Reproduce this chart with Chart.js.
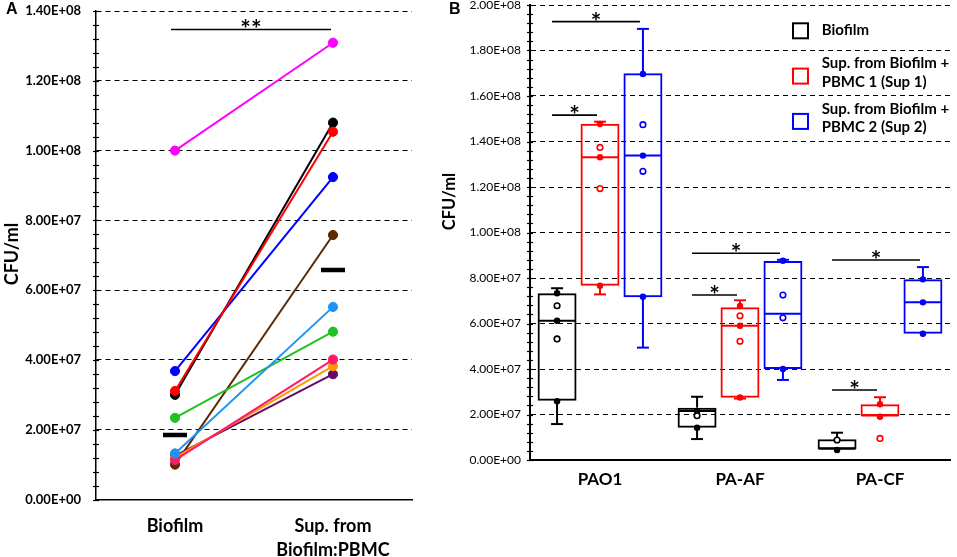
<!DOCTYPE html>
<html><head><meta charset="utf-8">
<script src="https://cdn.jsdelivr.net/npm/chart.js@4.4.1/dist/chart.umd.min.js"></script>
<style>
html,body{margin:0;padding:0;background:#fff;width:957px;height:557px;overflow:hidden}
#wa{position:absolute;left:0;top:0;width:430px;height:557px}
#wb{position:absolute;left:430px;top:0;width:527px;height:557px}
</style></head><body>
<div id="wa"><canvas id="ca"></canvas></div>
<div id="wb"><canvas id="cb"></canvas></div>
<script>
// ---------- Panel A data ----------
const categoriesA = ['Biofilm', ['Sup. from', 'Biofilm:PBMC']];
const isolateNames = ['Isolate 1','Isolate 2','Isolate 3','Isolate 4','Isolate 5','Isolate 6','Isolate 7','Isolate 8','Isolate 9','Isolate 10'];
const isolateColors = ['#1E93F5','#FF0000','#000000','#0000FF','#FF00FF','#22C022','#FF1A66','#FF9900','#650A66','#5C2A00'];
const biofilmCFU = [1.32e7, 3.11e7, 3.00e7, 3.68e7, 1.00e8, 2.34e7, 1.13e7, 1.20e7, 1.25e7, 1.00e7];
const supCFU     = [5.52e7, 1.054e8, 1.080e8, 9.24e7, 1.309e8, 4.81e7, 4.01e7, 3.82e7, 3.59e7, 7.58e7];
const mediansA = [1.85e7, 6.58e7];
const yTickLabelsA = ['0.00E+00','2.00E+07','4.00E+07','6.00E+07','8.00E+07','1.00E+08','1.20E+08','1.40E+08'];
const sigAFrom = [0], sigATo = [1], sigAValue = [1.347e8], sigALabel = ['**'];

// ---------- Panel B data ----------
const categoriesB = ['PAO1', 'PA-AF', 'PA-CF'];
const seriesNamesB = ['Biofilm', 'Sup. from Biofilm + PBMC 1 (Sup 1)', 'Sup. from Biofilm + PBMC 2 (Sup 2)'];
const legendLinesB = [['Biofilm'], ['Sup. from Biofilm +', 'PBMC 1 (Sup 1)'], ['Sup. from Biofilm +', 'PBMC 2 (Sup 2)']];
const seriesColorsB = ['#000000', '#FF0000', '#0000FF'];
const yTickLabelsB = ['0.00E+00','2.00E+07','4.00E+07','6.00E+07','8.00E+07','1.00E+08','1.20E+08','1.40E+08','1.60E+08','1.80E+08','2.00E+08'];

const biofilmMin    = [1.58e7, 9.2e6, 4.7e6];
const biofilmQ1     = [2.60e7, 1.42e7, 4.7e6];
const biofilmMedian = [6.12e7, 2.15e7, 5.0e6];
const biofilmQ3     = [7.33e7, 2.30e7, 9.1e6];
const biofilmMax    = [7.55e7, 2.78e7, 1.20e7];
const biofilmFilled = [[7.33e7, 6.12e7, 2.58e7], [2.15e7, 1.42e7], [4.4e6]];
const biofilmOpen   = [[6.78e7, 5.32e7], [1.95e7], [8.8e6]];

const sup1Min    = [7.28e7, 2.70e7, 1.93e7];
const sup1Q1     = [7.66e7, 2.74e7, 1.93e7];
const sup1Median = [1.331e8, 5.90e7, 1.96e7];
const sup1Q3     = [1.478e8, 6.71e7, 2.45e7];
const sup1Max    = [1.487e8, 7.02e7, 2.76e7];
const sup1Filled = [[1.477e8, 1.331e8, 7.66e7], [6.77e7, 5.90e7, 2.75e7], [2.45e7, 1.90e7]];
const sup1Open   = [[1.374e8, 1.193e8], [6.34e7, 5.22e7], [9.5e6]];

const sup2Min    = [4.94e7, 3.52e7, 5.55e7];
const sup2Q1     = [7.15e7, 4.00e7, 5.55e7];
const sup2Median = [1.338e8, 6.43e7, 6.93e7];
const sup2Q3     = [1.700e8, 8.75e7, 7.94e7];
const sup2Max    = [1.895e8, 8.80e7, 8.48e7];
const sup2Filled = [[1.697e8, 1.338e8, 7.18e7], [8.76e7, 4.00e7], [7.94e7, 6.93e7, 5.55e7]];
const sup2Open   = [[1.474e8, 1.269e8], [7.25e7, 6.25e7], []];

const sigBGroup = [0, 0, 1, 1, 2, 2];
const sigBFrom  = [0, 0, 0, 0, 0, 0];
const sigBTo    = [2, 1, 2, 1, 2, 1];
const sigBValue = [1.927e8, 1.516e8, 9.09e7, 7.25e7, 8.79e7, 3.08e7];
const sigBLabel = ['*', '*', '*', '*', '*', '*'];

// ---------- helpers ----------
const FONT = 'Lato';
function line(ctx, x1, y1, x2, y2) { ctx.beginPath(); ctx.moveTo(x1, y1); ctx.lineTo(x2, y2); ctx.stroke(); }
function minorTicks(ctx, chart, step) {
  const y = chart.scales.y, x = chart.chartArea.left;
  ctx.save(); ctx.strokeStyle = '#000'; ctx.lineWidth = 1.2;
  for (let v = y.min; v <= y.max + 1; v += step) {
    const py = Math.round(y.getPixelForValue(v)) + 0.5;
    line(ctx, x - 3, py, x + 3, py);
  }
  ctx.restore();
}
function vTitle(ctx, text, cx, cy, size) {
  ctx.save(); ctx.translate(cx, cy); ctx.rotate(-Math.PI / 2);
  ctx.font = 'bold ' + size + 'px ' + FONT; ctx.fillStyle = '#000';
  ctx.textAlign = 'center'; ctx.textBaseline = 'middle';
  ctx.fillText(text, 0, 0); ctx.restore();
}
function sigMark(ctx, x1, x2, y, label) {
  ctx.save(); ctx.strokeStyle = '#000'; ctx.lineWidth = 1.6;
  line(ctx, x1, y, x2, y);
  ctx.font = 'bold 25px ' + FONT; ctx.fillStyle = '#000';
  ctx.textAlign = 'center'; ctx.textBaseline = 'alphabetic';
  ctx.fillText(label, (x1 + x2) / 2, y + 9);
  ctx.restore();
}
function panelLetter(ctx, text, x, y) {
  ctx.save(); ctx.font = 'bold 16px "Liberation Sans"'; ctx.fillStyle = '#000';
  ctx.textAlign = 'left'; ctx.textBaseline = 'alphabetic'; ctx.fillText(text, x, y); ctx.restore();
}

// ---------- Panel A chart ----------
const dsA = isolateNames.map((n, i) => ({
  label: n, data: [biofilmCFU[i], supCFU[i]],
  borderColor: isolateColors[i], backgroundColor: isolateColors[i],
  pointBackgroundColor: isolateColors[i], pointBorderColor: isolateColors[i],
  borderWidth: 2, pointRadius: 4.6, pointBorderWidth: 1, tension: 0
}));
dsA.unshift({
  label: 'Median', data: mediansA, showLine: false, pointStyle: 'line',
  pointRadius: 12, pointBorderWidth: 4.5, borderColor: '#000', pointBorderColor: '#000'
});

const pluginA = {
  id: 'panelA',
  afterDraw(chart) {
    const ctx = chart.ctx, xs = chart.scales.x, ys = chart.scales.y;
    minorTicks(ctx, chart, 4e6);
    sigAValue.forEach((v, i) => {
      sigMark(ctx, xs.getPixelForValue(sigAFrom[i]) - 4, xs.getPixelForValue(sigATo[i]) - 2, ys.getPixelForValue(v), sigALabel[i]);
    });
    vTitle(ctx, 'CFU/ml', 12, 254, 18);
    panelLetter(ctx, 'A', 6, 14);
  }
};

new Chart(document.getElementById('ca'), {
  type: 'line',
  data: { labels: categoriesA, datasets: dsA },
  options: {
    responsive: true, maintainAspectRatio: false, animation: false,
    layout: { autoPadding: false, padding: { left: 0, right: 18, top: 11, bottom: 0 } },
    plugins: { legend: { display: false }, tooltip: { enabled: false } },
    scales: {
      x: {
        offset: true, grid: { display: false },
        border: { display: true, color: '#000', width: 1.5 },
        ticks: { color: '#000', padding: 7, font: { family: FONT, size: 18, weight: 'bold', lineHeight: 1.333 } },
        afterFit(s) { s.height = 57.5; s.paddingLeft = 0; s.paddingRight = 0; }
      },
      y: {
        min: 0, max: 1.4e8,
        ticks: { stepSize: 2e7, color: '#000', padding: 15, callback: (v, i) => yTickLabelsA[i], font: { family: FONT, size: 13, weight: 'bold' } },
        grid: { color: '#000', lineWidth: 1, drawTicks: false },
        border: { display: true, color: '#000', width: 1.5, dash: [5, 4] },
        afterFit(s) { s.width = 96; s.paddingTop = 0; s.paddingBottom = 0; }
      }
    }
  },
  plugins: [pluginA]
});

// ---------- Panel B chart ----------
const seriesB = [
  { min: biofilmMin, q1: biofilmQ1, med: biofilmMedian, q3: biofilmQ3, max: biofilmMax, filled: biofilmFilled, open: biofilmOpen },
  { min: sup1Min, q1: sup1Q1, med: sup1Median, q3: sup1Q3, max: sup1Max, filled: sup1Filled, open: sup1Open },
  { min: sup2Min, q1: sup2Q1, med: sup2Median, q3: sup2Q3, max: sup2Max, filled: sup2Filled, open: sup2Open }
];

const pluginB = {
  id: 'panelB',
  afterDatasetsDraw(chart) {
    const ctx = chart.ctx, ys = chart.scales.y;
    ctx.save();
    seriesB.forEach((s, di) => {
      const meta = chart.getDatasetMeta(di), col = seriesColorsB[di];
      meta.data.forEach((el, gi) => {
        const x = el.x, w = el.width, cap = 6;
        ctx.strokeStyle = col; ctx.lineWidth = 2; ctx.lineCap = 'butt';
        const pq3 = ys.getPixelForValue(s.q3[gi]), pmax = ys.getPixelForValue(s.max[gi]);
        const pq1 = ys.getPixelForValue(s.q1[gi]), pmin = ys.getPixelForValue(s.min[gi]);
        if (s.max[gi] > s.q3[gi]) { line(ctx, x, pq3, x, pmax); line(ctx, x - cap, pmax, x + cap, pmax); }
        if (s.min[gi] < s.q1[gi]) { line(ctx, x, pq1, x, pmin); line(ctx, x - cap, pmin, x + cap, pmin); }
        const pm = ys.getPixelForValue(s.med[gi]);
        line(ctx, x - w / 2 + 1, pm, x + w / 2 - 1, pm);
        s.filled[gi].forEach(v => {
          ctx.beginPath(); ctx.arc(x, ys.getPixelForValue(v), 3.2, 0, Math.PI * 2);
          ctx.fillStyle = col; ctx.fill();
        });
        s.open[gi].forEach(v => {
          ctx.beginPath(); ctx.arc(x, ys.getPixelForValue(v), 2.8, 0, Math.PI * 2);
          ctx.fillStyle = '#fff'; ctx.fill(); ctx.lineWidth = 1.6; ctx.strokeStyle = col; ctx.stroke();
        });
      });
    });
    ctx.restore();
  },
  afterDraw(chart) {
    const ctx = chart.ctx, ys = chart.scales.y;
    minorTicks(ctx, chart, 4e6);
    sigBValue.forEach((v, i) => {
      const a = chart.getDatasetMeta(sigBFrom[i]).data[sigBGroup[i]];
      const b = chart.getDatasetMeta(sigBTo[i]).data[sigBGroup[i]];
      sigMark(ctx, a.x - 5, b.x - 3, ys.getPixelForValue(v), sigBLabel[i]);
    });
    // legend
    ctx.save();
    const lx = 362, step = 45.3, sq = 17;
    legendLinesB.forEach((lines, i) => {
      const top = 22.3 + i * step;
      ctx.strokeStyle = seriesColorsB[i]; ctx.lineWidth = 2;
      ctx.strokeRect(lx + 1, top + 1, sq - 2, sq - 2);
      ctx.font = 'bold 15px ' + FONT; ctx.fillStyle = '#000';
      ctx.textAlign = 'left'; ctx.textBaseline = 'alphabetic';
      if (lines.length === 1) ctx.fillText(lines[0], lx + 29.7, top + 12.7);
      else lines.forEach((t, k) => ctx.fillText(t, lx + 29.7, top + 0.8 + k * 18.4));
    });
    ctx.restore();
    vTitle(ctx, 'CFU/ml', 20, 201.5, 16.5);
    panelLetter(ctx, 'B', 19, 14);
  }
};

new Chart(document.getElementById('cb'), {
  type: 'bar',
  data: {
    labels: categoriesB,
    datasets: seriesB.map((s, i) => ({
      label: seriesNamesB[i],
      data: s.q1.map((v, j) => [v, s.q3[j]]),
      backgroundColor: 'rgba(0,0,0,0)', borderColor: seriesColorsB[i],
      borderWidth: 2, borderSkipped: false,
      categoryPercentage: 0.92, barPercentage: 0.907
    }))
  },
  options: {
    responsive: true, maintainAspectRatio: false, animation: false,
    layout: { autoPadding: false, padding: { left: 0, right: 7, top: 5, bottom: 0 } },
    plugins: { legend: { display: false }, tooltip: { enabled: false } },
    scales: {
      x: {
        grid: { display: false },
        border: { display: true, color: '#000', width: 2 },
        ticks: { color: '#000', padding: 1, font: { family: FONT, size: 17, weight: 'bold', lineHeight: 1.2 } },
        afterFit(s) { s.height = 97; s.paddingLeft = 0; s.paddingRight = 0; }
      },
      y: {
        min: 0, max: 2e8,
        ticks: { stepSize: 2e7, color: '#000', padding: 9, callback: (v, i) => yTickLabelsB[i], font: { family: FONT, size: 12 } },
        grid: { color: '#000', lineWidth: 1, drawTicks: false },
        border: { display: true, color: '#000', width: 2, dash: [5, 4] },
        afterFit(s) { s.width = 100; s.paddingTop = 0; s.paddingBottom = 0; }
      }
    }
  },
  plugins: [pluginB]
});
</script>
</body></html>
